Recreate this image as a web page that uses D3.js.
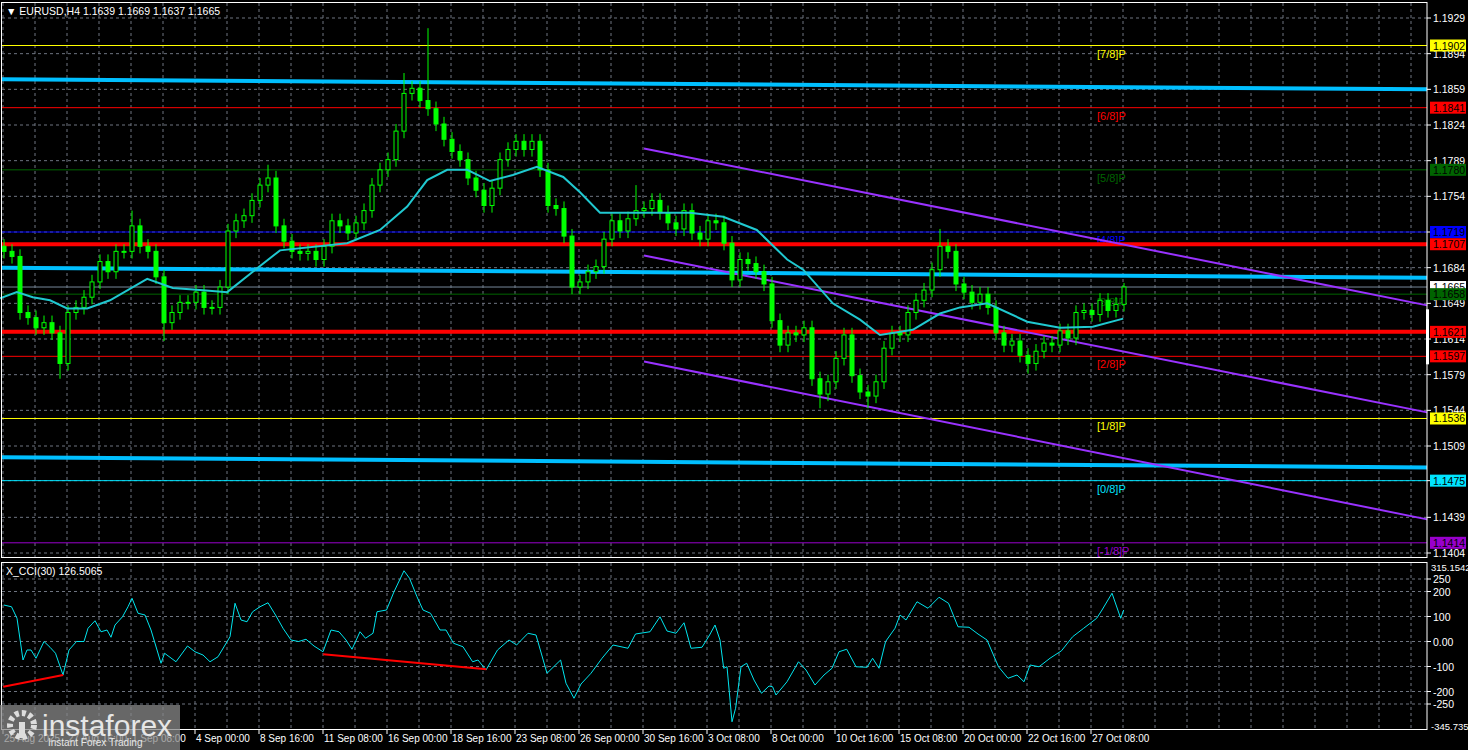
<!DOCTYPE html>
<html><head><meta charset="utf-8">
<script src="https://cdn.jsdelivr.net/npm/d3@7"></script>
<style>body{margin:0;background:#000;overflow:hidden}text{font-family:"Liberation Sans",Arial,sans-serif}</style>
</head><body><svg id="c" width="1468" height="750"></svg>
<script>
// ---------- DATA ----------
const closes=[1.1700,1.1695,1.1640,1.1635,1.1625,1.1630,1.1620,1.1590,1.1640,1.1645,1.1655,1.1670,1.1690,1.1680,1.1700,1.1700,1.1725,1.1705,1.1700,1.1675,
1.1630,1.1640,1.1650,1.1650,1.1660,1.1645,1.1645,1.1665,1.1720,1.1730,1.1735,1.1750,1.1765,1.1772,1.1725,1.1710,1.1700,1.1698,1.1700,1.1692,
1.1705,1.1730,1.1725,1.1718,1.1728,1.1740,1.1765,1.1780,1.1790,1.1818,1.1855,1.1860,1.1848,1.1840,1.1825,1.1810,1.1798,1.1790,1.1772,1.1760,
1.1745,1.1762,1.1790,1.1800,1.1808,1.1800,1.1808,1.1780,1.1745,1.1742,1.1715,1.1665,1.1670,1.1680,1.1685,1.1712,1.1730,1.1720,1.1732,1.1740,
1.1742,1.1750,1.1738,1.1728,1.1722,1.1740,1.1718,1.1712,1.1730,1.1728,1.1708,1.1672,1.1692,1.1688,1.1680,1.1668,1.1632,1.1608,1.1620,1.1618,
1.1625,1.1575,1.1560,1.1572,1.1595,1.1618,1.1578,1.1562,1.1558,1.1572,1.1605,1.1620,1.1618,1.1640,1.1652,1.1662,1.1682,1.1705,1.1700,1.1668,
1.1660,1.1650,1.1658,1.1645,1.1620,1.1608,1.1612,1.1598,1.1590,1.1602,1.1610,1.1608,1.1622,1.1615,1.1640,1.1642,1.1638,1.1652,1.1642,1.1648,1.1665];
const firstOpen=1.1705;
const highSpikes=[[16,1.1740],[33,1.1785],[50,1.1875],[53,1.1919],[79,1.1765],[117,1.1722],[140,1.1669]];
const lowSpikes=[[7,1.1575],[20,1.1612],[102,1.1546],[108,1.1546],[128,1.1580]];
const maSlot=[-0.5,1.6,3.6,5.75,7.9,10.4,13.25,17.9,21.1,24.5,27.9,31.1,34.5,42.9,47,50.4,52.9,55.4,57.9,60.75,63.6,66.6,69.9,72,74.5,85.75,89.9,94.1,97.9,99.9,103.6,107,109.5,113.6,117,119.5,122.9,127.9,132,136.1,139.9];
const maVal=[1.1654,1.1660,1.1655,1.1652,1.1644,1.1644,1.1652,1.1673,1.1664,1.1662,1.1660,1.1680,1.1701,1.1708,1.1721,1.1744,1.1770,1.1780,1.1780,1.1769,1.1775,1.1783,1.1773,1.1758,1.1738,1.1738,1.1734,1.1721,1.1692,1.1682,1.1649,1.1633,1.1618,1.1623,1.1639,1.1645,1.1649,1.1631,1.1625,1.1626,1.1634];
const cciPx=[3.8,11.5,17,23,27,31,36,44,50,55.5,63,69,76.5,84,88,95,101,107,111,115,122.5,128,132,138,145,151,161,164.6,176,187.5,195,203,210,218,230,235,241,247,252.6,260,268,275.5,283,291,298.5,306,314,323,331,339,346,352,360,365.5,373,377,386.5,394,404,409.5,417,423,430.5,440,446,453.5,463,472.6,478,486,497.5,509,516.6,528,536,547,560.6,566,574,581,591,602,613,628,635.5,650,660,667,676,684,691,702,709.6,715,720,723.7,727,732,735.6,741,746.7,754,761.5,769,772.6,776,787,798.5,806,815,824,832,839,846.7,856,867,872.6,879,885.6,895,900,906,917,928,939,948.5,958,969,978,987,998.5,1008,1017,1024,1030,1039,1050,1061.5,1072.6,1083.7,1096.7,1102,1112,1120.7,1123.7];
const cciVal=[146,139,93,-74,-34,-34,-67,0,-23,-47,-134,-34,0,0,53,83,39,46,17,66,99,139,173,113,106,46,-87,-47,-81,-18,-41,-54,-81,-61,19,153,86,79,119,139,155,106,53,6,0,9,-18,-41,46,39,6,-31,39,13,33,119,126,199,283,253,179,126,113,46,46,-7,-21,-81,-74,-114,-34,6,-14,33,26,-127,-74,-167,-227,-170,-127,-67,-14,-27,30,39,99,42,33,75,-27,-23,26,66,6,-107,-101,-321,-267,-101,-87,-154,-207,-178,-181,-214,-161,-81,-114,-174,-134,-107,-41,-31,-101,-103,-67,-107,0,53,106,86,159,133,177,153,59,57,30,6,-101,-147,-134,-161,-94,-101,-67,-37,19,53,93,126,193,93,126];
const priceTicks=[1.1929,1.1894,1.1859,1.1824,1.1789,1.1754,1.1719,1.1684,1.1649,1.1614,1.1579,1.1544,1.1509,1.1475,1.1439,1.1404];
const cciTicks=[250,200,100,0,-100,-200,-250];
const timeLabels=["25 Aug 2025","27 Aug 16:00","1 Sep 08:00","4 Sep 00:00","8 Sep 16:00","11 Sep 08:00","16 Sep 00:00","18 Sep 16:00","23 Sep 08:00","26 Sep 00:00","30 Sep 16:00","3 Oct 08:00","8 Oct 00:00","10 Oct 16:00","15 Oct 08:00","20 Oct 00:00","22 Oct 16:00","27 Oct 08:00"];
const murrey=[{v:1.1902,n:"[7/8]P",c:"#ffff00"},{v:1.1841,n:"[6/8]P",c:"#ff0000"},{v:1.1780,n:"[5/8]P",c:"#006400"},{v:1.1719,n:"[4/8]P",c:"#0000ff"},{v:1.1658,n:"[3/8]P",c:"#006400"},{v:1.1597,n:"[2/8]P",c:"#ff0000"},{v:1.1536,n:"[1/8]P",c:"#ffff00"},{v:1.1475,n:"[0/8]P",c:"#00e5ff"},{v:1.1414,n:"[-1/8]P",c:"#9900cc"}];
const redLevels=[1.1707,1.1621];
const currentPrice=1.1665;
const blueBands=[[1.1869,1.1859],[1.1684,1.1674],[1.1498,1.1488]];
const channel=[[80,1.1801,177.9,1.1647],[80,1.1696,177.9,1.1542],[80,1.1592,177.9,1.1437]];
const cciRed=[[-0.1,-181,7.4,-134],[39.9,-51,60.3,-111]];

// ---------- SCALES ----------
const svg=d3.select("#c");
const R=1427;
const x=d3.scaleLinear().domain([0,1]).range([4,12]);
const xp=d3.scaleLinear().domain([0,1427]).range([0,1427]);
const y=d3.scaleLinear().domain([1.1404,1.1929]).range([553,18]);
const yc=d3.scaleLinear().domain([-250,250]).range([704,579]);
const f4=d3.format(".4f");

svg.append("rect").attr("width",1468).attr("height",750).attr("fill","#000");
const grid="#6e7480";
const vg=d3.range(-0.125,178,4);
[[3,557],[563,729]].forEach(([a,b])=>{
 svg.append("g").selectAll("line").data(vg).join("line").attr("x1",d=>x(d)).attr("x2",d=>x(d)).attr("y1",a).attr("y2",b)
  .attr("stroke",grid).attr("stroke-dasharray","3,3").attr("stroke-width",1);
});
svg.append("g").selectAll("line").data(priceTicks).join("line").attr("x1",2).attr("x2",R).attr("y1",d=>y(d)).attr("y2",d=>y(d))
 .attr("stroke",grid).attr("stroke-dasharray","3,3");
svg.append("g").selectAll("line").data(cciTicks).join("line").attr("x1",2).attr("x2",R).attr("y1",d=>yc(d)).attr("y2",d=>yc(d))
 .attr("stroke",grid).attr("stroke-dasharray","3,3");

murrey.forEach(m=>{
 svg.append("line").attr("x1",2).attr("x2",R).attr("y1",y(m.v)).attr("y2",y(m.v)).attr("stroke",m.c).attr("stroke-width",1);
 svg.append("text").attr("x",1097).attr("y",y(m.v)+12).attr("fill",m.c).attr("font-size",11).text(m.n);
});
svg.append("line").attr("x1",2).attr("x2",R).attr("y1",y(currentPrice)).attr("y2",y(currentPrice)).attr("stroke","#778899");
blueBands.forEach(b=>{
 svg.append("line").attr("x1",2).attr("x2",R).attr("y1",y(b[0])).attr("y2",y(b[1])).attr("stroke","#00bfff").attr("stroke-width",4);
});
redLevels.forEach(v=>svg.append("line").attr("x1",2).attr("x2",R).attr("y1",y(v)).attr("y2",y(v)).attr("stroke","#ff0000").attr("stroke-width",4));
channel.forEach(c=>svg.append("line").attr("x1",x(c[0])).attr("y1",y(c[1])).attr("x2",x(c[2])).attr("y2",y(c[3])).attr("stroke","#9932ff").attr("stroke-width",2));

const hiMap=new Map(highSpikes),loMap=new Map(lowSpikes);
const candles=closes.map((c,i)=>{const o=i?closes[i-1]:firstOpen;
 const h=hiMap.has(i)?hiMap.get(i):Math.max(o,c)+0.0007;const l=loMap.has(i)?loMap.get(i):Math.min(o,c)-0.0007;return{i,o,c,h,l};});
const cg=svg.append("g");
cg.selectAll("line").data(candles).join("line").attr("x1",d=>x(d.i)).attr("x2",d=>x(d.i)).attr("y1",d=>y(d.h)).attr("y2",d=>y(d.l)).attr("stroke","#00ff00");
cg.selectAll("rect").data(candles).join("rect").attr("x",d=>x(d.i)-2).attr("width",4)
 .attr("y",d=>y(Math.max(d.o,d.c))).attr("height",d=>Math.max(1,Math.abs(y(d.o)-y(d.c))))
 .attr("fill",d=>d.c>=d.o?"#000":"#00ff00").attr("stroke","#00ff00").attr("stroke-width",1);

svg.append("path").datum(maSlot.map((s,k)=>[s,maVal[k]])).attr("fill","none").attr("stroke","#20c8d0").attr("stroke-width",2)
 .attr("d",d3.line().x(d=>x(d[0])).y(d=>y(d[1])));

svg.append("path").datum(cciPx.map((p,k)=>[p,cciVal[k]])).attr("fill","none").attr("stroke","#00e5ee").attr("stroke-width",1)
 .attr("d",d3.line().x(d=>xp(d[0])).y(d=>yc(d[1])));
cciRed.forEach(c=>svg.append("line").attr("x1",x(c[0])).attr("y1",yc(c[1])).attr("x2",x(c[2])).attr("y2",yc(c[3])).attr("stroke","#ff0000").attr("stroke-width",2));

svg.append("rect").attr("x",1.5).attr("y",2.5).attr("width",R-1.5).attr("height",555).attr("fill","none").attr("stroke","#fff");
svg.append("rect").attr("x",1.5).attr("y",562.5).attr("width",R-1.5).attr("height",167).attr("fill","none").attr("stroke","#fff");

const ax=svg.append("g").attr("font-size",10.5).attr("fill","#fff");
priceTicks.forEach(v=>{ax.append("line").attr("x1",R).attr("x2",R+4).attr("y1",y(v)).attr("y2",y(v)).attr("stroke","#fff");
 ax.append("text").attr("x",R+6).attr("y",y(v)+4).text(f4(v));});
const boxes=[{v:1.1902,bg:"#ffff00",t:"#000"},{v:1.1841,bg:"#ff0000",t:"#000"},{v:1.1780,bg:"#006400",t:"#000"},{v:1.1719,bg:"#0000ff",t:"#000"},{v:1.1707,bg:"#ff0000",t:"#000"},{v:1.1665,bg:"#ffffff",t:"#000"},{v:1.1658,bg:"#006400",t:"#000"},{v:1.1621,bg:"#ff0000",t:"#000"},{v:1.1597,bg:"#ff0000",t:"#000"},{v:1.1536,bg:"#ffff00",t:"#000"},{v:1.1475,bg:"#00e5ff",t:"#000"},{v:1.1414,bg:"#9900cc",t:"#000"}];
boxes.forEach(b=>{const yy=y(b.v);ax.append("rect").attr("x",R+3).attr("y",yy-6).attr("width",36).attr("height",12).attr("fill",b.bg);
 ax.append("text").attr("x",R+6).attr("y",yy+4).attr("fill",b.t).text(f4(b.v));});
svg.append("rect").attr("x",R-1).attr("y",y(1.1649)+6).attr("width",3).attr("height",y(1.1597)-y(1.1649)+2).attr("fill","#fff");
const cax=svg.append("g").attr("font-size",10.5).attr("fill","#fff");
cciTicks.forEach(v=>{cax.append("line").attr("x1",R).attr("x2",R+4).attr("y1",yc(v)).attr("y2",yc(v)).attr("stroke","#fff");
 cax.append("text").attr("x",R+6).attr("y",yc(v)+4).text(v===0?"0.00":v);});
cax.append("text").attr("x",R+4).attr("y",yc(315.1542)+8).attr("font-size",9.5).text("315.1542");
cax.append("text").attr("x",R+4).attr("y",yc(-345.735)+2).attr("font-size",9.5).text("-345.735");

const tg=svg.append("g").attr("font-size",10).attr("fill","#fff");
timeLabels.forEach((t,k)=>{const xx=x(-0.125+8*k);
 tg.append("line").attr("x1",xx).attr("x2",xx).attr("y1",730).attr("y2",734).attr("stroke","#fff");
 tg.append("text").attr("x",xx+1).attr("y",742).text(t);});

svg.append("text").attr("x",6).attr("y",15).attr("fill","#fff").attr("font-size",10.5).text("▼  EURUSD,H4  1.1639 1.1669 1.1637 1.1665");
svg.append("text").attr("x",6).attr("y",575).attr("fill","#fff").attr("font-size",10.5).text("X_CCI(30) 126.5065");

const wm=svg.append("g");
wm.append("rect").attr("x",0).attr("y",705).attr("width",180).attr("height",45).attr("fill","#8a8a8a").attr("opacity",0.75);
wm.append("circle").attr("cx",22).attr("cy",725).attr("r",12).attr("fill","none").attr("stroke","#ddd").attr("stroke-width",6).attr("stroke-dasharray","4,3");
wm.append("rect").attr("x",19).attr("y",722).attr("width",6).attr("height",16).attr("fill","#ddd");
wm.append("text").attr("x",42).attr("y",736).attr("fill","#e6e6e6").attr("font-size",30).attr("font-family","DejaVu Sans").text("instaforex");
wm.append("text").attr("x",48).attr("y",746).attr("fill","#e6e6e6").attr("font-size",10).text("Instant Forex Trading");
</script></body></html>
